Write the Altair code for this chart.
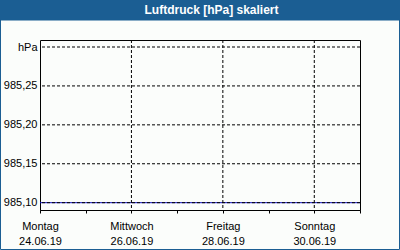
import altair as alt
import pandas as pd

# data
day_index = [0, 1, 2, 3, 4, 5, 6, 7]
pressure = [985.10, 985.10, 985.10, 985.10, 985.10, 985.10, 985.10, 985.10]
tick_days = [0, 1, 2, 3, 4, 5, 6, 7]
y_ticks = [985.10, 985.15, 985.20, 985.25, 985.30]
title_text = "Luftdruck [hPa] skaliert"

BLUE = "#1b5e93"
BG = "#fbfdfb"
FONT = "Liberation Sans"

df = pd.DataFrame({"d": day_index, "p": pressure})

label_expr_x = (
    "datum.value == 0 ? ['Montag','24.06.19'] : "
    "datum.value == 2 ? ['Mittwoch','26.06.19'] : "
    "datum.value == 4 ? ['Freitag','28.06.19'] : "
    "datum.value == 6 ? ['Sonntag','30.06.19'] : ''"
)
label_expr_y = (
    "datum.value > 985.29 ? 'hPa' : replace(format(datum.value, '.2f'), '.', ',')"
)

xs = alt.X("d:Q", scale=alt.Scale(domain=[0, 7], nice=False, zero=False),
           axis=alt.Axis(values=tick_days, labelExpr=label_expr_x, title=None,
                         grid=False, domainColor="black", tickColor="black",
                         tickSize=3, labelFont=FONT, labelFontSize=11,
                         labelColor="black", labelPadding=7, labelLineHeight=15,
                         labelFlush=False, labelOverlap=False))
ys = alt.Y("p:Q", scale=alt.Scale(domain=[985.0906, 985.309], nice=False, zero=False),
           axis=alt.Axis(values=y_ticks, labelExpr=label_expr_y, title=None,
                         grid=False, domain=False, ticks=False, labelFont=FONT,
                         labelFontSize=11, labelColor="black", labelPadding=3))

line = alt.Chart(df).mark_line(color="#1010c0", strokeWidth=1).encode(x=xs, y=ys)

grid_x = alt.Chart(pd.DataFrame({"d": [2, 4, 6]})).mark_rule(
    color="black", strokeDash=[3, 2], strokeWidth=1).encode(x="d:Q")
grid_y = alt.Chart(pd.DataFrame({"p": y_ticks})).mark_rule(
    color="black", strokeDash=[3, 2], strokeWidth=1).encode(y="p:Q")

title_bar = alt.Chart(pd.DataFrame({"a": [0]})).mark_rect(color=BLUE, clip=False).encode(
    x=alt.value(-40), x2=alt.value(360), y=alt.value(-40), y2=alt.value(-20))
title = alt.Chart(pd.DataFrame({"t": [title_text]})).mark_text(
    color="white", font=FONT, fontSize=12, fontWeight="bold", clip=False,
    align="center", baseline="middle").encode(
    text="t:N", x=alt.value(171.5), y=alt.value(-30))
border = alt.Chart(pd.DataFrame({"a": [0]})).mark_rect(
    fill=None, stroke=BLUE, strokeWidth=1, clip=False).encode(
    x=alt.value(-39.5), x2=alt.value(359.5), y=alt.value(-20), y2=alt.value(209.5))

chart = alt.layer(line, grid_x, grid_y, title_bar, title, border).properties(
    width=320, height=170,
    padding={"left": 40, "top": 40, "right": 40, "bottom": 40},
    autosize=alt.AutoSizeParams(type="none"),
    background=BG,
).configure_view(stroke="black", strokeWidth=1)

chart.save("out.html", embed_options={"renderer": "svg", "actions": False})
